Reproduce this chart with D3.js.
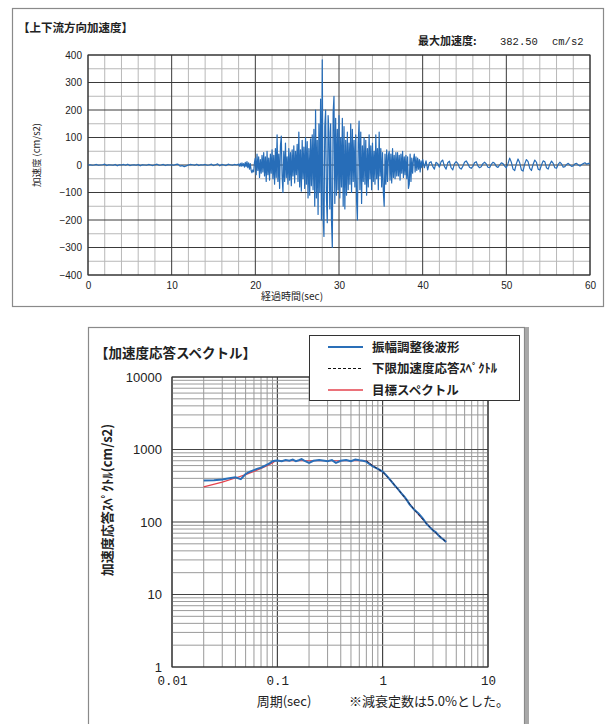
<!DOCTYPE html>
<html>
<head>
<meta charset="utf-8">
<script src="https://cdn.jsdelivr.net/npm/d3@7"></script>
<style>
  body { margin: 0; background: #fff; }
  svg { display: block; }
  text { font-family: "Noto Sans CJK JP", "Noto Sans", sans-serif; fill: #222; }
  .num { font-family: "Liberation Sans", Arial, sans-serif; }
  .mono { font-family: "Liberation Mono", "DejaVu Sans Mono", monospace; }
</style>
</head>
<body>
<svg id="chart" width="614" height="724"></svg>
<script>
// --- time history (cm/s2) ---
// 0 - 18 s, step 0.25 s
const accelPre = [0, 1, -1, 0, 2, -1, 0, 1, 3, -2, 1, 0, -1, 2, -3, 1,
  0, 2, -1, 3, -2, 0, 1, -1, 2, -3, 1, 0, -1, 2, 0, -2,
  1, 3, -1, 0, 2, -2, 1, 0, 1, -1, 2, 3, -4, -2, -6, -3,
  0, 2, 1, -1, 3, -2, 1, 0, 2, -1, 0, 3, -2, 1, 4, -3,
  2, 0, -2, 3, 1, -1, 2, 0];
// 18 - 40 s, step 0.1 s
const accelMain = [
  3, -4, 6, -5, 8, -3, 5, -8, 10, -6,
  12, -10, 8, -15, 5, -20, -28, -18, -25, 10,
  25, -35, 40, -20, 30, -45, 20, -30, 35, -25,
  45, -40, 30, -60, 50, -35, 25, -55, 40, -30,
  55, -50, 35, -70, 60, -45, 110, -60, 40, -85,
  70, 105, -40, -100, 50, -60, 80, -45, 30, -70,
  60, -55, 45, -75, 55, -40, 70, -65, 50, -35,
  75, -60, 120, -80, 55, -95, 90, -50, 65, -85,
  100, -70, 85, -120, 60, -110, 95, -75, 110, -90,
  130, -150, 200, -120, 90, -180, 150, -100, 240, -200,
  382.5, -180, -260, 140, 200, -120, -210, 180, 120, -160,
  150, -200, -300, 190, 250, -140, 170, -110, 130, -90,
  180, -120, 100, -80, 170, -150, 140, -160, 90, -110,
  120, -90, 80, -70, 150, -100, 130, -60, 90, -80,
  110, -130, -200, 80, 160, -90, 120, -140, 70, -60,
  100, -70, 90, -110, 60, -80, 110, -50, 70, -90,
  80, -60, 50, -70, 110, -50, 60, -90, 120, -40,
  60, -80, 45, -100, -150, 40, -70, 55, -60, 35,
  50, -55, 40, -65, 60, -45, 35, -50, 45, -40,
  45, -40, 35, -55, 40, -30, 50, -45, 30, -35,
  35, -50, 30, -85, -70, 40, -60, 25, -30, 20,
  40, -25, 30, -20, 25, -15, 20, -25, 15, -10];
// 40 - 60 s, step 0.2 s
const accelTail = [
  20, -10, 15, -18, 8, 12, -5, -15, 10, 5,
  -8, 12, 18, -5, -15, 8, 14, -10, -18, 5,
  12, 6, -10, -15, -5, 10, 15, 5, -8, -12,
  -5, 8, 12, -3, -10, -6, 5, 10, 4, -8,
  -10, 2, 10, 6, -5, -9, 0, 8, 5, -4,
  -10, 5, 25, 10, -15, -20, 5, 22, 8, -18,
  -22, 4, 20, 12, -12, -20, 2, 18, 10, -15,
  -18, 0, 15, 12, -10, -15, 3, 14, 6, -10,
  -12, 2, 10, 4, -8, -6, 2, 6, 0, -5,
  -3, 4, 6, 0, -4, 2, 5, 8, 3, 6, 5];

const timeTicks = [0, 10, 20, 30, 40, 50, 60];
const accelTicks = [-400, -300, -200, -100, 0, 100, 200, 300, 400];

// --- response spectrum ---
const adjPeriod = [0.02, 0.025, 0.03, 0.035, 0.04, 0.045, 0.05, 0.055, 0.06, 0.065, 0.07, 0.075,
  0.08, 0.085, 0.09, 0.095, 0.1, 0.11, 0.12, 0.13, 0.14, 0.15, 0.16, 0.17, 0.18, 0.2, 0.22,
  0.25, 0.28, 0.3, 0.33, 0.36, 0.4, 0.45, 0.5, 0.55, 0.6, 0.65, 0.7, 0.8, 0.9, 1.0, 1.1, 1.2,
  1.3, 1.4, 1.5, 1.6, 1.7, 1.8, 1.9, 2.0, 2.2, 2.4, 2.6, 2.8, 3.0, 3.2, 3.4, 3.6, 3.8, 4.0];
const adjAccel = [375, 378, 385, 400, 415, 390, 460, 495, 520, 545, 560, 590,
  620, 650, 690, 700, 705, 690, 715, 700, 725, 690, 710, 735, 700, 655, 700,
  715, 700, 690, 715, 655, 700, 715, 690, 725, 710, 700, 680, 590, 540, 495, 430, 370,
  320, 285, 250, 225, 200, 175, 160, 147, 130, 112, 95, 85, 77, 72, 65, 60, 57, 53];
const targetPeriod = [0.02, 0.03, 0.04, 0.05, 0.06, 0.07, 0.08, 0.09, 0.096, 0.7, 0.8, 0.9,
  1.0, 1.2, 1.5, 2.0, 2.5, 3.0, 3.5, 4.0];
const targetAccel = [305, 355, 405, 450, 500, 550, 600, 650, 700, 700, 600, 540,
  490, 370, 250, 147, 102, 77, 63, 53];
const lowerPeriod = [0.7, 0.8, 0.9, 1.0, 1.2, 1.5, 2.0, 2.5, 3.0, 3.5, 4.0];
const lowerAccel = [700, 600, 540, 490, 370, 250, 147, 102, 77, 63, 53];

const periodTicks = [0.01, 0.1, 1, 10];
const periodLabels = ["0.01", "0.1", "1", "10"];
const specTicks = [1, 10, 100, 1000, 10000];

const legendNames = ["振幅調整後波形", "下限加速度応答ｽﾍﾟｸﾄﾙ", "目標スペクトル"];

const svg = d3.select("#chart");

// ================= top panel =================
svg.append("rect").attr("x", 12.5).attr("y", 8.5).attr("width", 591).attr("height", 298)
  .attr("fill", "#fff").attr("stroke", "#8a8a8a").attr("stroke-width", 1.2);

const x1 = d3.scaleLinear().domain([0, 60]).range([88, 590]);
const y1 = d3.scaleLinear().domain([-400, 400]).range([275, 55]);

const g1 = svg.append("g");

// minor grid
g1.selectAll(".vmin").data(d3.range(0, 61, 2).filter(d => d % 10 !== 0)).enter()
  .append("line").attr("x1", d => x1(d)).attr("x2", d => x1(d))
  .attr("y1", y1(400)).attr("y2", y1(-400)).attr("stroke", "#b8b8b8").attr("stroke-width", 1);
g1.selectAll(".hmin").data(d3.range(-350, 400, 100)).enter()
  .append("line").attr("y1", d => y1(d)).attr("y2", d => y1(d))
  .attr("x1", x1(0)).attr("x2", x1(60)).attr("stroke", "#b8b8b8").attr("stroke-width", 1);
// major grid
g1.selectAll(".vmaj").data(timeTicks).enter()
  .append("line").attr("x1", d => x1(d)).attr("x2", d => x1(d))
  .attr("y1", y1(400)).attr("y2", y1(-400)).attr("stroke", "#3a3a3a").attr("stroke-width", 1);
g1.selectAll(".hmaj").data(accelTicks).enter()
  .append("line").attr("y1", d => y1(d)).attr("y2", d => y1(d))
  .attr("x1", x1(0)).attr("x2", x1(60)).attr("stroke", "#3a3a3a").attr("stroke-width", 1);
g1.append("rect").attr("x", x1(0)).attr("y", y1(400))
  .attr("width", x1(60) - x1(0)).attr("height", y1(-400) - y1(400))
  .attr("fill", "none").attr("stroke", "#333").attr("stroke-width", 1);

// waveform
const wave = [];
accelPre.forEach((v, i) => wave.push([i * 0.25, v]));
accelMain.forEach((v, i) => wave.push([18 + i * 0.1, v]));
accelTail.forEach((v, i) => wave.push([40 + i * 0.2, v]));

g1.append("path").datum(wave)
  .attr("d", d3.line().x(d => x1(d[0])).y(d => y1(d[1])))
  .attr("fill", "none").attr("stroke", "#276db8").attr("stroke-width", 1.2)
  .attr("stroke-linejoin", "round");

// axes
const ax1 = g1.append("g").attr("transform", `translate(0,${y1(-400)})`)
  .call(d3.axisBottom(x1).tickValues(timeTicks).tickSize(0).tickPadding(7));
const ay1 = g1.append("g").attr("transform", `translate(${x1(0)},0)`)
  .call(d3.axisLeft(y1).tickValues(accelTicks).tickSize(0).tickPadding(6));
[ax1, ay1].forEach(a => {
  a.select(".domain").remove();
  a.selectAll("text").attr("class", "num").style("font-size", "10px").attr("fill", "#333");
});

svg.append("text").attr("x", 18).attr("y", 32).style("font-size", "11.5px")
  .style("font-weight", 700).text("【上下流方向加速度】");
svg.append("text").attr("x", 418).attr("y", 45).style("font-size", "11px")
  .style("font-weight", 700).text("最大加速度:");
svg.append("text").attr("class", "mono").attr("x", 500).attr("y", 45)
  .style("font-size", "10.5px").text("382.50");
svg.append("text").attr("class", "mono").attr("x", 552).attr("y", 45)
  .style("font-size", "10.5px").text("cm/s2");
svg.append("text").attr("x", 292).attr("y", 300).attr("text-anchor", "middle")
  .style("font-size", "10px").text("経過時間(sec)");
svg.append("text").attr("transform", "translate(40,155) rotate(-90)")
  .attr("text-anchor", "middle").style("font-size", "9.5px").text("加速度 (cm/s2)");

// ================= bottom panel =================
svg.append("rect").attr("x", 88.5).attr("y", 327.5).attr("width", 436).attr("height", 410)
  .attr("fill", "#fff").attr("stroke", "#8a8a8a").attr("stroke-width", 1.2);
svg.append("line").attr("x1", 527).attr("x2", 527).attr("y1", 327).attr("y2", 724)
  .attr("stroke", "#a8a8a8").attr("stroke-width", 4);

const x2 = d3.scaleLog().domain([0.01, 10]).range([172, 488]);
const y2 = d3.scaleLog().domain([1, 10000]).range([667, 377]);

const g2 = svg.append("g");

g2.selectAll(".v2").data(x2.ticks()).enter()
  .append("line").attr("x1", d => x2(d)).attr("x2", d => x2(d))
  .attr("y1", y2(10000)).attr("y2", y2(1))
  .attr("stroke", d => periodTicks.includes(d) ? "#222" : "#9a9a9a").attr("stroke-width", 1);
g2.selectAll(".h2").data(y2.ticks()).enter()
  .append("line").attr("y1", d => y2(d)).attr("y2", d => y2(d))
  .attr("x1", x2(0.01)).attr("x2", x2(10))
  .attr("stroke", d => specTicks.includes(d) ? "#444" : "#9a9a9a").attr("stroke-width", 1);
g2.append("rect").attr("x", x2(0.01)).attr("y", y2(10000))
  .attr("width", x2(10) - x2(0.01)).attr("height", y2(1) - y2(10000))
  .attr("fill", "none").attr("stroke", "#333").attr("stroke-width", 1);

const specLine = d3.line().x(d => x2(d[0])).y(d => y2(d[1]));
g2.append("path").datum(targetPeriod.map((p, i) => [p, targetAccel[i]]))
  .attr("d", specLine).attr("fill", "none").attr("stroke", "#e5434e").attr("stroke-width", 1.2);
g2.append("path").datum(adjPeriod.map((p, i) => [p, adjAccel[i]]))
  .attr("d", specLine).attr("fill", "none").attr("stroke", "#2a6fb8").attr("stroke-width", 2);
g2.append("path").datum(lowerPeriod.map((p, i) => [p, lowerAccel[i]]))
  .attr("d", specLine).attr("fill", "none").attr("stroke", "#1a2a44")
  .attr("stroke-width", 1).attr("stroke-dasharray", "3,2");

const ax2 = g2.append("g").attr("transform", `translate(0,${y2(1)})`)
  .call(d3.axisBottom(x2).tickValues(periodTicks).tickSize(0).tickPadding(9)
    .tickFormat((d, i) => periodLabels[i]));
const ay2 = g2.append("g").attr("transform", `translate(${x2(0.01) - 8},0)`)
  .call(d3.axisLeft(y2).tickValues(specTicks).tickSize(0).tickPadding(2)
    .tickFormat(d3.format("d")));
[ax2, ay2].forEach(a => a.select(".domain").remove());
ax2.selectAll("text").attr("class", "mono").style("font-size", "12.5px").attr("fill", "#333");
ay2.selectAll("text").attr("class", "num").style("font-size", "13px").attr("fill", "#333");

svg.append("text").attr("x", 95).attr("y", 358).style("font-size", "13.5px")
  .style("font-weight", 700).text("【加速度応答スペクトル】");
svg.append("text").attr("x", 284).attr("y", 706).attr("text-anchor", "middle")
  .style("font-size", "13px").text("周期(sec)");
svg.append("text").attr("x", 429).attr("y", 706).attr("text-anchor", "middle")
  .style("font-size", "13px").text("※減衰定数は5.0%とした。");
svg.append("text").attr("transform", "translate(112,500) rotate(-90)")
  .attr("text-anchor", "middle").style("font-size", "13px").style("font-weight", 700)
  .text("加速度応答ｽﾍﾟｸﾄﾙ(cm/s2)");

// legend
const lg = svg.append("g");
lg.append("rect").attr("x", 309.5).attr("y", 335.5).attr("width", 210).attr("height", 65)
  .attr("fill", "#fff").attr("stroke", "#333").attr("stroke-width", 1);
const legStroke = ["#2a6fb8", "#111", "#e5434e"];
const legWidth = [2, 1, 1.5];
const legDash = [null, "3,2", null];
legendNames.forEach((name, i) => {
  const yy = 347 + i * 21.5;
  lg.append("line").attr("x1", 328).attr("x2", 363).attr("y1", yy).attr("y2", yy)
    .attr("stroke", legStroke[i]).attr("stroke-width", legWidth[i])
    .attr("stroke-dasharray", legDash[i]);
  lg.append("text").attr("x", 372).attr("y", yy + 4.5).style("font-size", "12.5px")
    .style("font-weight", 700).text(name);
});
</script>
</body>
</html>
